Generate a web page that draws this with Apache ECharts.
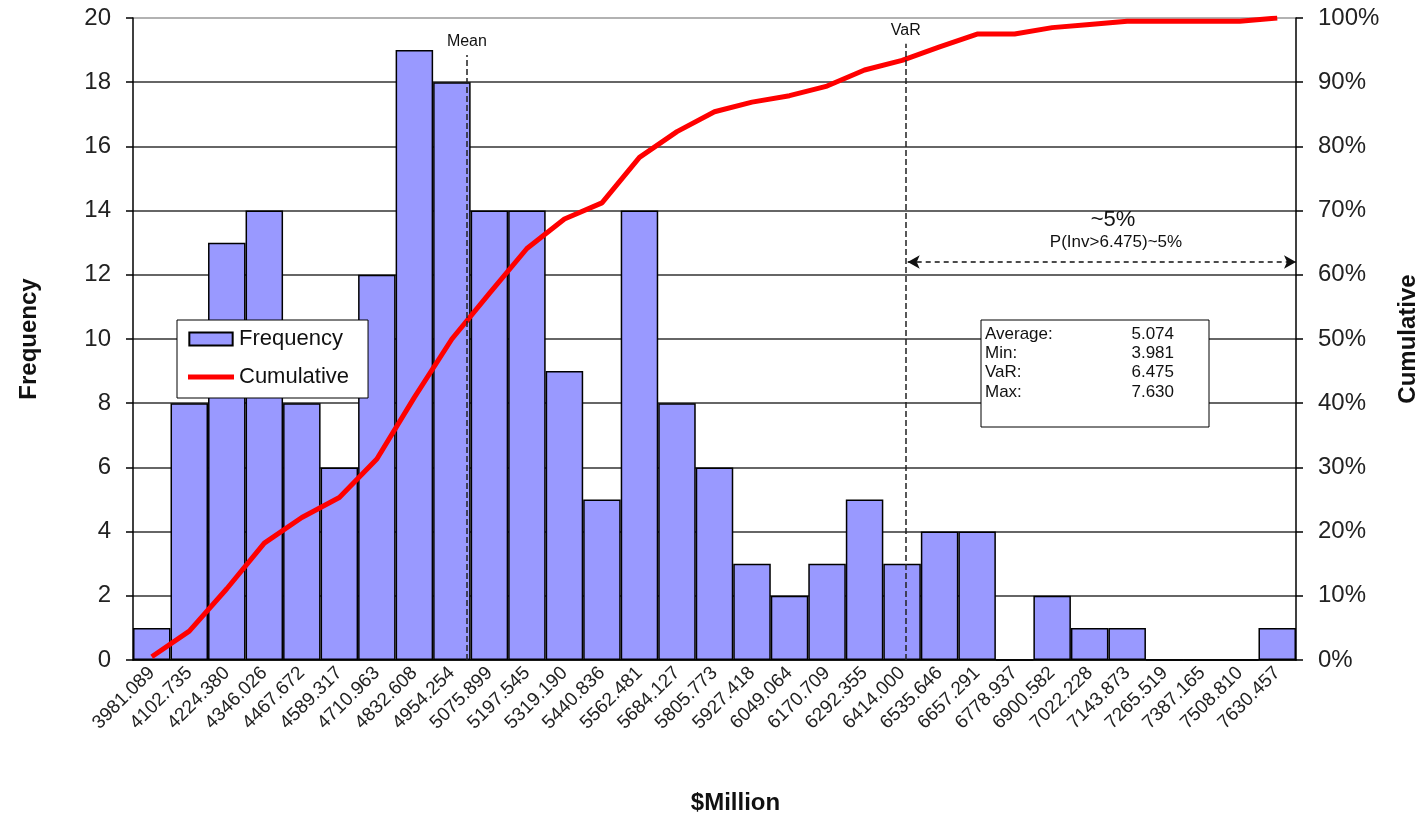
<!DOCTYPE html>
<html>
<head>
<meta charset="utf-8">
<script src="https://cdn.jsdelivr.net/npm/echarts@6/dist/echarts.min.js"></script>
<style>
  html, body { margin: 0; padding: 0; background: #fff; }
  #chart { width: 1422px; height: 816px; }
</style>
</head>
<body>
<div id="chart"></div>
<script>
// Bin centres ($Million, scaled by 1000), counts per bin and running share (%)
const categories = [
  '3981.089', '4102.735', '4224.380', '4346.026', '4467.672', '4589.317',
  '4710.963', '4832.608', '4954.254', '5075.899', '5197.545', '5319.190',
  '5440.836', '5562.481', '5684.127', '5805.773', '5927.418', '6049.064',
  '6170.709', '6292.355', '6414.000', '6535.646', '6657.291', '6778.937',
  '6900.582', '7022.228', '7143.873', '7265.519', '7387.165', '7508.810',
  '7630.457'
];
const frequency = [
  1, 8, 13, 14, 8, 6, 12, 19, 18, 14, 14, 9, 5, 14, 8, 6,
  3, 2, 3, 5, 3, 4, 4, 0, 2, 1, 1, 0, 0, 0, 1
];
const cumulative = [
  0.5, 4.5, 11.1, 18.2, 22.2, 25.3, 31.3, 40.9, 50.0, 57.1, 64.1, 68.7,
  71.2, 78.3, 82.3, 85.4, 86.9, 87.9, 89.4, 91.9, 93.4, 95.5, 97.5, 97.5,
  98.5, 99.0, 99.5, 99.5, 99.5, 99.5, 100
];
const freqTicks = { min: 0, max: 20, interval: 2 };
const cumTicks = { min: 0, max: 100, interval: 10 };

// Reference markers, placed on a bin-index scale (bin i spans i-0.5 .. i+0.5)
const meanPos = 8.4;
const varPos = 20.1;
const tailArrow = { from: 20.15, to: 30.5, level: 12.4 };
const stats = [
  ['Average:', '5.074'],
  ['Min:', '3.981'],
  ['VaR:', '6.475'],
  ['Max:', '7.630']
];

const FONT = 'Liberation Sans, Arial, sans-serif';
const chart = echarts.init(document.getElementById('chart'), null, { renderer: 'canvas' });

// summary box rows
const statTexts = [];
stats.forEach((row, i) => {
  const y = 334 + i * 19.3;
  statTexts.push({
    type: 'text', x: 985, y: y, z: 11,
    style: { text: row[0], font: '17px ' + FONT, fill: '#111', align: 'left', verticalAlign: 'middle' }
  });
  statTexts.push({
    type: 'text', x: 1174, y: y, z: 11,
    style: { text: row[1], font: '17px ' + FONT, fill: '#111', align: 'right', verticalAlign: 'middle' }
  });
});

chart.setOption({
  animation: false,
  textStyle: { fontFamily: FONT },
  grid: { left: 133, right: 126, top: 18, bottom: 156, outerBoundsMode: 'none', containLabel: false },
  legend: {
    orient: 'vertical',
    left: 177, top: 320,
    backgroundColor: '#fff',
    borderColor: '#000',
    borderWidth: 1,
    padding: [8, 19, 10, 11],
    itemGap: 16,
    itemWidth: 46,
    itemHeight: 13,
    textStyle: { fontSize: 22, lineHeight: 22, color: '#111', fontFamily: FONT },
    data: [
      { name: 'Frequency', icon: 'path://M0,0H40V12H0Z' },
      { name: 'Cumulative', icon: 'path://M0,0H46V5H0Z', itemStyle: { color: '#ff0000', borderWidth: 0 } }
    ]
  },
  xAxis: [
    {
      type: 'category',
      data: categories,
      boundaryGap: true,
      axisLine: { lineStyle: { color: '#000', width: 1.5 } },
      axisTick: { length: 7, lineStyle: { color: '#000', width: 1.5 } },
      axisLabel: { rotate: 45, interval: 0, fontSize: 19, color: '#222', margin: 10, fontFamily: FONT },
      name: '$Million',
      nameLocation: 'middle',
      nameGap: 131,
      nameTextStyle: { fontSize: 24, fontWeight: 'bold', color: '#111', fontFamily: FONT, padding: [0, 0, 0, 42] }
    },
    { type: 'value', min: -0.5, max: 30.5, show: false }
  ],
  yAxis: [
    {
      type: 'value',
      min: freqTicks.min, max: freqTicks.max, interval: freqTicks.interval,
      axisLine: { show: true, onZero: false, lineStyle: { color: '#000', width: 1.5 } },
      axisTick: { show: true, length: 7, lineStyle: { color: '#000', width: 1.5 } },
      axisLabel: { fontSize: 24, color: '#222', margin: 22, fontFamily: FONT },
      splitLine: {
        lineStyle: {
          color: ['#333', '#333', '#333', '#333', '#333', '#333', '#333', '#333', '#333', '#333', '#999'],
          width: 1.5
        }
      },
      name: 'Frequency',
      nameLocation: 'middle',
      nameGap: 92,
      nameRotate: 90,
      nameTextStyle: { fontSize: 24, fontWeight: 'bold', color: '#111', fontFamily: FONT }
    },
    {
      type: 'value',
      position: 'right',
      min: cumTicks.min, max: cumTicks.max, interval: cumTicks.interval,
      axisLine: { show: true, onZero: false, lineStyle: { color: '#000', width: 1.5 } },
      axisTick: { show: true, length: 7, lineStyle: { color: '#000', width: 1.5 } },
      axisLabel: { fontSize: 24, color: '#222', margin: 22, formatter: '{value}%', fontFamily: FONT },
      splitLine: { show: false },
      name: 'Cumulative',
      nameLocation: 'middle',
      nameGap: 100,
      nameRotate: 90,
      nameTextStyle: { fontSize: 24, fontWeight: 'bold', color: '#111', fontFamily: FONT }
    }
  ],
  series: [
    {
      name: 'Frequency',
      type: 'bar',
      data: frequency,
      barCategoryGap: '0%',
      itemStyle: { color: '#9999ff', borderColor: '#000', borderWidth: 1.5 },
      z: 2
    },
    {
      name: 'Cumulative',
      type: 'line',
      yAxisIndex: 1,
      data: cumulative,
      symbol: 'none',
      lineStyle: { color: '#ff0000', width: 5 },
      itemStyle: { color: '#ff0000' },
      z: 4
    },
    {
      // mean and VaR guide lines
      name: 'guides',
      type: 'line',
      xAxisIndex: 1,
      yAxisIndex: 0,
      data: [],
      z: 5,
      markLine: {
        silent: true,
        symbol: 'none',
        lineStyle: { color: '#222', type: [6, 3], width: 1.5 },
        label: { position: 'end', distance: 5, fontSize: 16, color: '#111', fontFamily: FONT },
        data: [
          [{ coord: [meanPos, 0], label: { formatter: 'Mean' } }, { coord: [meanPos, 18.85] }],
          [{ coord: [varPos, 0], label: { formatter: 'VaR' } }, { coord: [varPos, 19.2] }]
        ]
      }
    },
    {
      // tail beyond VaR
      name: 'tail',
      type: 'line',
      xAxisIndex: 1,
      yAxisIndex: 0,
      data: [],
      z: 5,
      markLine: {
        silent: true,
        symbol: ['arrow', 'arrow'],
        symbolSize: [10, 12],
        lineStyle: { color: '#111', type: [5, 4], width: 1.5 },
        label: { show: false },
        data: [
          [{ coord: [tailArrow.from, tailArrow.level] }, { coord: [tailArrow.to, tailArrow.level] }]
        ]
      }
    }
  ],
  graphic: [
    {
      type: 'text', x: 1113, y: 220, z: 10,
      style: { text: '~5%', font: '22px ' + FONT, fill: '#111', align: 'center', verticalAlign: 'middle' }
    },
    {
      type: 'text', x: 1116, y: 242, z: 10,
      style: { text: 'P(Inv>6.475)~5%', font: '17px ' + FONT, fill: '#111', align: 'center', verticalAlign: 'middle' }
    },
    {
      type: 'rect', x: 981, y: 320, z: 10,
      shape: { width: 228, height: 107 },
      style: { fill: '#fff', stroke: '#000', lineWidth: 1 }
    },
    ...statTexts
  ]
});
</script>
</body>
</html>
